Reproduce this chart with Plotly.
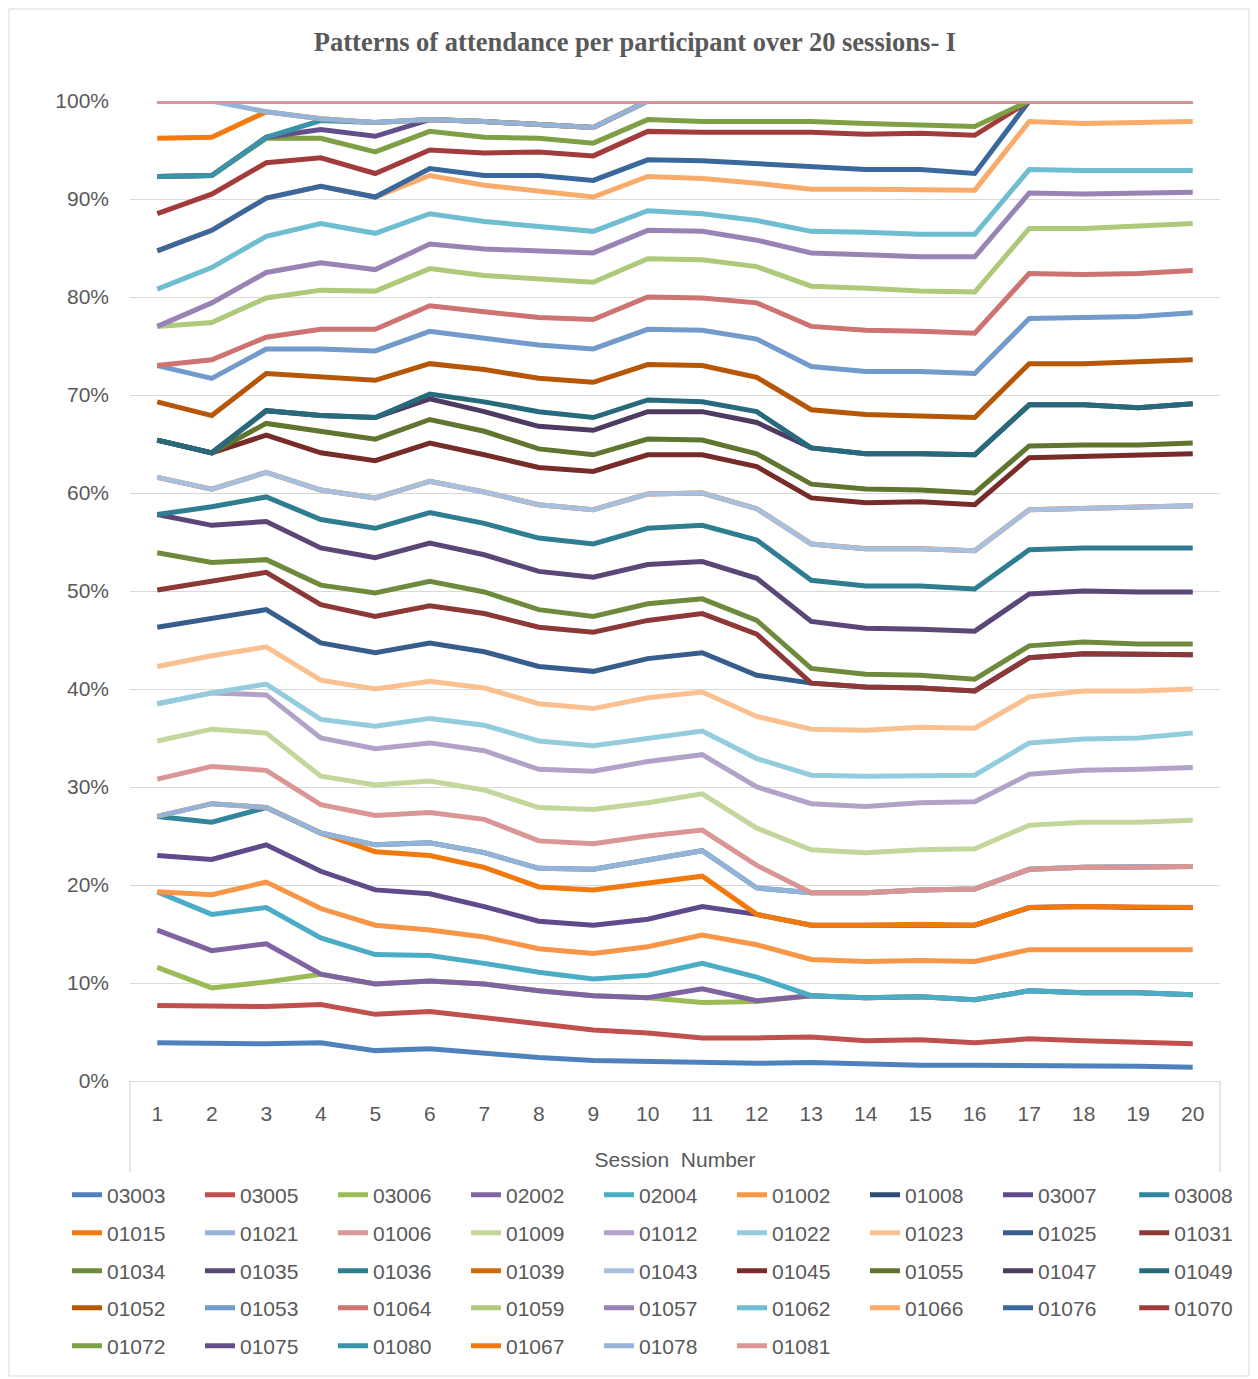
import plotly.graph_objects as go

sessions = list(range(1, 21))
y_tick_vals = list(range(0, 101, 10))
y_tick_text = [f"{v}%" for v in y_tick_vals]

s03003 = [3.9, 3.8, 3.8, 3.9, 3.1, 3.3, 2.8, 2.4, 2.1, 2.0, 1.9, 1.8, 1.9, 1.7, 1.6, 1.6, 1.6, 1.5, 1.5, 1.4]
s03005 = [7.7, 7.6, 7.6, 7.8, 6.8, 7.1, 6.5, 5.8, 5.2, 4.9, 4.4, 4.4, 4.5, 4.1, 4.2, 3.9, 4.3, 4.1, 3.9, 3.8]
s03006 = [11.6, 9.5, 10.1, 10.9, 9.9, 10.2, 9.9, 9.2, 8.7, 8.5, 8.0, 8.1, 8.7, 8.5, 8.6, 8.3, 9.2, 9.0, 9.0, 8.8]
s02002 = [15.4, 13.3, 14.0, 10.9, 9.9, 10.2, 9.9, 9.2, 8.7, 8.5, 9.4, 8.2, 8.7, 8.5, 8.6, 8.3, 9.2, 9.0, 9.0, 8.8]
s02004 = [19.3, 17.0, 17.7, 14.6, 12.9, 12.8, 12.0, 11.1, 10.4, 10.8, 12.0, 10.6, 8.7, 8.5, 8.6, 8.3, 9.2, 9.0, 9.0, 8.8]
s01002 = [19.3, 19.0, 20.3, 17.6, 15.9, 15.4, 14.7, 13.5, 13.0, 13.7, 14.9, 13.9, 12.4, 12.2, 12.3, 12.2, 13.4, 13.4, 13.4, 13.4]
s01008 = [100] * 20
s03007 = [23.0, 22.6, 24.1, 21.4, 19.5, 19.1, 17.8, 16.3, 15.9, 16.5, 17.8, 17.0, 15.9, 15.9, 16.0, 15.9, 17.7, 17.8, 17.7, 17.7]
s03008 = [27.0, 26.4, 27.9, 25.3, 24.1, 24.3, 23.3, 21.7, 21.6, 22.6, 23.5, 19.7, 19.2, 19.2, 19.5, 19.6, 21.6, 21.8, 21.8, 21.9]
s01015 = [27.0, 28.3, 27.9, 25.3, 23.4, 23.0, 21.8, 19.8, 19.5, 20.2, 20.9, 17.0, 15.9, 15.9, 16.0, 15.9, 17.7, 17.8, 17.7, 17.7]
s01021 = [27.0, 28.3, 27.9, 25.3, 24.1, 24.3, 23.3, 21.7, 21.6, 22.6, 23.5, 19.7, 19.2, 19.2, 19.5, 19.6, 21.6, 21.8, 21.8, 21.9]
s01006 = [30.8, 32.1, 31.7, 28.2, 27.1, 27.4, 26.7, 24.5, 24.2, 25.0, 25.6, 22.0, 19.2, 19.2, 19.5, 19.6, 21.6, 21.8, 21.8, 21.9]
s01009 = [34.7, 35.9, 35.5, 31.1, 30.2, 30.6, 29.7, 27.9, 27.7, 28.4, 29.3, 25.8, 23.6, 23.3, 23.6, 23.7, 26.1, 26.4, 26.4, 26.6]
s01012 = [38.5, 39.6, 39.4, 35.0, 33.9, 34.5, 33.7, 31.8, 31.6, 32.6, 33.3, 30.0, 28.3, 28.0, 28.4, 28.5, 31.3, 31.7, 31.8, 32.0]
s01022 = [38.5, 39.6, 40.5, 36.9, 36.2, 37.0, 36.3, 34.7, 34.2, 35.0, 35.7, 32.9, 31.2, 31.1, 31.2, 31.2, 34.5, 34.9, 35.0, 35.5]
s01023 = [42.3, 43.4, 44.3, 40.9, 40.0, 40.8, 40.1, 38.5, 38.0, 39.1, 39.7, 37.2, 35.9, 35.8, 36.1, 36.0, 39.2, 39.8, 39.8, 40.0]
s01025 = [46.3, 47.2, 48.1, 44.7, 43.7, 44.7, 43.8, 42.3, 41.8, 43.1, 43.7, 41.4, 40.6, 40.2, 40.1, 39.8, 43.2, 43.6, 43.5, 43.5]
s01031 = [50.1, 51.0, 51.9, 48.6, 47.4, 48.5, 47.7, 46.3, 45.8, 47.0, 47.7, 45.6, 40.6, 40.2, 40.1, 39.8, 43.2, 43.6, 43.5, 43.5]
s01034 = [53.9, 52.9, 53.2, 50.6, 49.8, 51.0, 49.9, 48.1, 47.4, 48.7, 49.2, 47.0, 42.1, 41.5, 41.4, 41.0, 44.4, 44.8, 44.6, 44.6]
s01035 = [57.8, 56.7, 57.1, 54.4, 53.4, 54.9, 53.7, 52.0, 51.4, 52.7, 53.0, 51.3, 46.9, 46.2, 46.1, 45.9, 49.7, 50.0, 49.9, 49.9]
s01036 = [57.8, 58.6, 59.6, 57.3, 56.4, 58.0, 56.9, 55.4, 54.8, 56.4, 56.7, 55.2, 51.1, 50.5, 50.5, 50.2, 54.2, 54.4, 54.4, 54.4]
s01039 = [61.6, 60.4, 62.1, 60.3, 59.5, 61.2, 60.1, 58.8, 58.3, 59.9, 60.0, 58.4, 54.8, 54.3, 54.3, 54.1, 58.3, 58.4, 58.5, 58.7]
s01043 = [61.6, 60.4, 62.1, 60.3, 59.5, 61.2, 60.1, 58.8, 58.3, 59.9, 60.0, 58.4, 54.8, 54.3, 54.3, 54.1, 58.3, 58.4, 58.5, 58.7]
s01045 = [65.4, 64.1, 65.9, 64.1, 63.3, 65.1, 63.9, 62.6, 62.2, 63.9, 63.9, 62.7, 59.5, 59.0, 59.1, 58.8, 63.6, 63.7, 63.8, 64.0]
s01055 = [65.4, 64.1, 67.1, 66.3, 65.5, 67.5, 66.3, 64.5, 63.9, 65.5, 65.4, 64.0, 60.9, 60.4, 60.3, 60.0, 64.8, 64.9, 64.9, 65.1]
s01047 = [65.4, 64.1, 68.4, 67.9, 67.7, 69.6, 68.3, 66.8, 66.4, 68.3, 68.3, 67.2, 64.6, 64.0, 64.0, 63.9, 69.0, 69.0, 68.7, 69.1]
s01049 = [65.4, 64.1, 68.4, 67.9, 67.7, 70.1, 69.3, 68.3, 67.7, 69.5, 69.3, 68.3, 64.6, 64.0, 64.0, 63.9, 69.0, 69.0, 68.7, 69.1]
s01052 = [69.3, 67.9, 72.2, 71.9, 71.5, 73.2, 72.6, 71.7, 71.3, 73.1, 73.0, 71.8, 68.5, 68.0, 67.9, 67.7, 73.2, 73.2, 73.4, 73.6]
s01053 = [73.0, 71.7, 74.7, 74.7, 74.5, 76.5, 75.8, 75.1, 74.7, 76.7, 76.6, 75.7, 72.9, 72.4, 72.4, 72.2, 77.8, 77.9, 78.0, 78.4]
s01064 = [73.0, 73.6, 75.9, 76.7, 76.7, 79.1, 78.5, 77.9, 77.7, 80.0, 79.9, 79.4, 77.0, 76.6, 76.5, 76.3, 82.4, 82.3, 82.4, 82.7]
s01059 = [77.0, 77.4, 79.9, 80.7, 80.6, 82.9, 82.2, 81.8, 81.5, 83.9, 83.8, 83.1, 81.1, 80.9, 80.6, 80.5, 87.0, 87.0, 87.3, 87.5]
s01057 = [77.0, 79.4, 82.5, 83.5, 82.8, 85.4, 84.9, 84.7, 84.5, 86.8, 86.7, 85.8, 84.5, 84.3, 84.1, 84.1, 90.6, 90.5, 90.6, 90.7]
s01062 = [80.8, 83.0, 86.2, 87.5, 86.5, 88.5, 87.7, 87.2, 86.7, 88.8, 88.5, 87.8, 86.7, 86.6, 86.4, 86.4, 93.0, 92.9, 92.9, 92.9]
s01066 = [84.7, 86.8, 90.1, 91.3, 90.2, 92.4, 91.4, 90.8, 90.2, 92.3, 92.1, 91.6, 91.0, 91.0, 90.9, 90.9, 97.9, 97.7, 97.8, 97.9]
s01076 = [84.7, 86.8, 90.1, 91.3, 90.2, 93.1, 92.4, 92.4, 91.9, 94.0, 93.9, 93.6, 93.2, 93.0, 93.0, 92.6, 100, 100, 100, 100]
s01070 = [88.5, 90.5, 93.7, 94.2, 92.6, 95.0, 94.7, 94.8, 94.4, 96.9, 96.8, 96.8, 96.8, 96.6, 96.7, 96.5, 100, 100, 100, 100]
s01072 = [92.3, 92.4, 96.2, 96.2, 94.8, 96.9, 96.3, 96.2, 95.7, 98.1, 97.9, 97.9, 97.9, 97.7, 97.6, 97.4, 100, 100, 100, 100]
s01075 = [92.3, 92.4, 96.3, 97.1, 96.4, 98.1, 97.9, 97.6, 97.3, 100, 100, 100, 100, 100, 100, 100, 100, 100, 100, 100]
s01080 = [92.3, 92.4, 96.3, 98.0, 97.8, 98.1, 97.9, 97.6, 97.3, 100, 100, 100, 100, 100, 100, 100, 100, 100, 100, 100]
s01067 = [96.2, 96.3, 98.9, 98.2, 97.8, 98.1, 97.9, 97.6, 97.3, 100, 100, 100, 100, 100, 100, 100, 100, 100, 100, 100]
s01078 = [100, 100, 98.9, 98.2, 97.8, 98.1, 97.9, 97.6, 97.3, 100, 100, 100, 100, 100, 100, 100, 100, 100, 100, 100]
s01081 = [100] * 20

participants = ["03003", "03005", "03006", "02002", "02004", "01002", "01008", "03007", "03008",
                "01015", "01021", "01006", "01009", "01012", "01022", "01023", "01025", "01031",
                "01034", "01035", "01036", "01039", "01043", "01045", "01055", "01047", "01049",
                "01052", "01053", "01064", "01059", "01057", "01062", "01066", "01076", "01070",
                "01072", "01075", "01080", "01067", "01078", "01081"]

values = [s03003, s03005, s03006, s02002, s02004, s01002, s01008, s03007, s03008,
          s01015, s01021, s01006, s01009, s01012, s01022, s01023, s01025, s01031,
          s01034, s01035, s01036, s01039, s01043, s01045, s01055, s01047, s01049,
          s01052, s01053, s01064, s01059, s01057, s01062, s01066, s01076, s01070,
          s01072, s01075, s01080, s01067, s01078, s01081]

colors = ["#4F81BD", "#C0504D", "#9BBB59", "#8064A2", "#4BACC6", "#F79646", "#2C4D75", "#5F4B8B", "#31859C",
          "#F27A0C", "#95B3D7", "#D99694", "#C3D69B", "#B3A2C7", "#93CDDD", "#FAC090", "#375D8C", "#8C3836",
          "#6E8B3D", "#5A4677", "#2F7D91", "#D4690A", "#A8C0DE", "#772C2A", "#5F7530", "#4D3B62", "#276A7C",
          "#B65708", "#729ACA", "#CD7371", "#AFC97A", "#9983B5", "#6FBDD1", "#F9AB6B", "#3A679C", "#A23C3C",
          "#7F9F45", "#634E8C", "#3A93A8", "#F47A0F", "#95B3D7", "#D99694"]

# layout geometry: screen pixels, the page body adds an 8px offset
OFF = 8
W, H = 1258 - OFF, 1379 - OFF
PL, PR, PT, PB = 130 - OFF, 1220 - OFF, 101 - OFF, 1081 - OFF


def px_x(screen_px):
    return (screen_px - OFF - PL) / (PR - PL)


def px_y(screen_px):
    return (PB - (screen_px - OFF)) / (PB - PT)


GRAY = "#595959"
FONT = "Liberation Sans"

per_row = 9
n_rows = 5
row_centers = [1195, 1233, 1271, 1308, 1346]
LEG_X0 = 67
PITCH = 133.4


def legend_key(idx):
    return "legend" if idx == 0 else f"legend{idx + 1}"


fig = go.Figure()
for i, (name, vals, col) in enumerate(zip(participants, values, colors)):
    row, colno = divmod(i, per_row)
    # last column of each full row gets its own legend so the row does not overflow
    leg_idx = row if colno < per_row - 1 else n_rows + row
    fig.add_trace(go.Scatter(
        x=sessions, y=vals, name=name, mode="lines",
        line=dict(color=col, width=5),
        legend=legend_key(leg_idx),
    ))

legend_common = dict(
    orientation="h", xanchor="left", yanchor="middle",
    font=dict(family=FONT, size=21, color=GRAY),
    entrywidth=88, entrywidthmode="pixels",
    bgcolor="rgba(0,0,0,0)", itemwidth=30,
    tracegroupgap=0,
)
legends = {}
for r, yc in enumerate(row_centers):
    legends[legend_key(r)] = dict(legend_common, x=px_x(LEG_X0), y=px_y(yc))
    if (r + 1) * per_row <= len(participants):
        legends[legend_key(n_rows + r)] = dict(
            legend_common, entrywidth=60,
            x=px_x(LEG_X0 + (per_row - 1) * PITCH), y=px_y(yc))

fig.update_layout(
    width=W, height=H,
    margin=dict(l=PL, r=W - PR, t=PT, b=H - PB, pad=0),
    paper_bgcolor="white", plot_bgcolor="white",
    title=dict(
        text="<b>Patterns of attendance per participant over 20 sessions- I</b>",
        x=(635 - OFF) / W, xanchor="center", y=1 - (42 - OFF) / H, yanchor="middle",
        font=dict(family="Liberation Serif", size=26.5, color=GRAY),
    ),
    xaxis=dict(
        range=[0.5, 20.5], tickmode="array", tickvals=sessions,
        ticktext=[str(s) for s in sessions],
        showgrid=False, zeroline=False,
        showline=True, linecolor="#D9D9D9", linewidth=1.3,
        ticks="", ticklabelstandoff=14,
        tickfont=dict(family=FONT, size=21, color=GRAY),
        title=dict(text="Session  Number", standoff=27,
                   font=dict(family=FONT, size=21, color=GRAY)),
    ),
    yaxis=dict(
        range=[0, 100], tickmode="array", tickvals=y_tick_vals, ticktext=y_tick_text,
        showgrid=True, gridcolor="#D9D9D9", gridwidth=1.3,
        zeroline=False, showline=False, ticks="", ticklabelstandoff=20,
        tickfont=dict(family=FONT, size=21, color=GRAY),
    ),
    showlegend=True,
    **legends,
)

# multi-level category axis frame lines and chart border
for xp in (130, 1220):
    fig.add_shape(type="line", xref="paper", yref="paper",
                  x0=px_x(xp), x1=px_x(xp), y0=px_y(1081), y1=px_y(1172),
                  line=dict(color="#D9D9D9", width=1.3), layer="below")
fig.add_shape(type="rect", xref="paper", yref="paper",
              x0=px_x(9), x1=px_x(1249), y0=px_y(1376), y1=px_y(9),
              line=dict(color="#D9D9D9", width=1), layer="below")

fig.write_html("out.html")
